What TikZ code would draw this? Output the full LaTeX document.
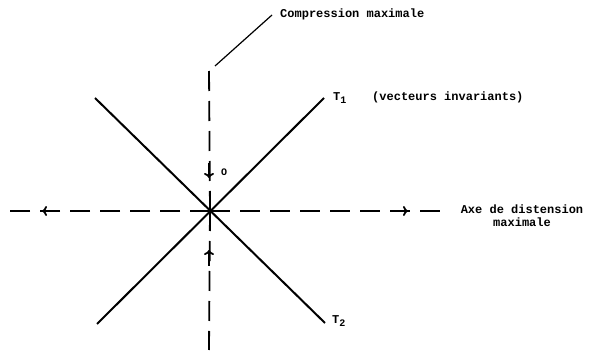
\documentclass[tikz,border=0pt]{standalone}
\usepackage{fontspec}
\setmonofont{Liberation Mono}
\usetikzlibrary{arrows.meta}
\tikzset{
  axis/.style={line width=1.8pt, dash pattern=on 20pt off 10pt},
  diag/.style={line width=2pt},
  tip/.style={line width=1.8pt, -{To[length=5pt,width=10pt,line width=1.8pt]}},
  lbl/.style={font=\ttfamily\bfseries\fontsize{12}{13}\selectfont, inner sep=0pt},
  leader/.style={line width=1.2pt}
}
\newcommand{\subnum}[1]{\raisebox{-3pt}{\fontsize{10}{10}\selectfont #1}}
\begin{document}
\begin{tikzpicture}[x=1pt,y=-1pt]
\useasboundingbox (0,0) rectangle (589,355);
% center
\coordinate (O) at (210,211);
% diagonals ends
\coordinate (ul) at (95,98);
\coordinate (lr) at (325,323);
\coordinate (ll) at (97,324);
\coordinate (ur) at (324,98);
\draw[diag] (ul) -- (lr);
\draw[diag] (ll) -- (ur);
% axes
\coordinate (hl) at (8,211);
\coordinate (hr) at (443,211);
\coordinate (vt) at (209,68);
\coordinate (vb) at (209,350);
\draw[axis] (O) -- (hr);
\draw[axis] (O) -- (hl);
\draw[axis] (O) -- (vt);
\draw[axis] (O) -- (vb);
% arrow heads
\coordinate (la1) at (57,211); \coordinate (la2) at (42,211);
\coordinate (ra1) at (390,211); \coordinate (ra2) at (408,211);
\coordinate (da1) at (209,163); \coordinate (da2) at (209,178);
\coordinate (ua1) at (209,266); \coordinate (ua2) at (209,250);
\draw[tip] (la1) -- (la2);
\draw[tip] (ra1) -- (ra2);
\draw[tip] (da1) -- (da2);
\draw[tip] (ua1) -- (ua2);
% labels
\node[lbl, anchor=west] (comp) at (280,14) {Compression maximale};
\coordinate (lead1) at (215,66);
\coordinate (lead2) at (272,15);
\draw[leader] (lead1) -- (lead2);
\node[lbl, anchor=west] (T1) at (333,98) {T\subnum{1}};
\node[lbl, anchor=west] (vi) at (372,97) {(vecteurs invariants)};
\node[lbl, anchor=west] (T2) at (332,321) {T\subnum{2}};
\node[lbl, align=center, anchor=north] (axe) at (522,205) {Axe de distension\\maximale};
\node[lbl, font=\ttfamily\bfseries\fontsize{10}{11}\selectfont] (o) at (224,172) {O};
\end{tikzpicture}
\end{document}
